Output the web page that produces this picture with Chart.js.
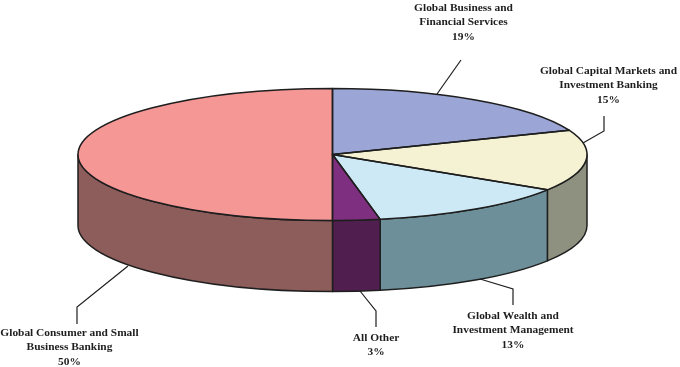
<!DOCTYPE html>
<html>
<head>
<meta charset="utf-8">
<style>
html, body { margin: 0; padding: 0; background: #fff; }
canvas { display: block; }
</style>
<script src="https://cdn.jsdelivr.net/npm/chart.js@4"></script>
</head>
<body>
<canvas id="myChart" width="680" height="367"></canvas>
<script>
const categories = [
    ['Global Business and', 'Financial Services'],
    ['Global Capital Markets and', 'Investment Banking'],
    ['Global Wealth and', 'Investment Management'],
    ['All Other'],
    ['Global Consumer and Small', 'Business Banking']
];
const shares = [19, 15, 13, 3, 50];
const topColors = ['#9ca6d6', '#f4f2d3', '#cde9f6', '#7f2f80', '#f49795'];
const wallColors = ['#6d7494', '#8e9180', '#6d8f99', '#501f4f', '#8d5d5b'];

// Ellipse of the pie top and height of the wall
const pie3d = { cx: 332.5, cy: 154.5, rx: 254.5, ry: 66, depth: 71 };

// Callouts: text centre, first baseline, line height and leader line
const callouts = [
    { x: 463.5, y: 10.5, leader: [[437, 94], [461, 60]] },
    { x: 608.5, y: 73.5, leader: [[583, 143], [604, 131], [604, 116]] },
    { x: 513, y: 318.5, leader: [[480, 279], [513, 289], [513, 305]] },
    { x: 376, y: 340.5, leader: [[360, 291], [376, 311], [376, 327]] },
    { x: 69.5, y: 335.5, leader: [[128, 266], [77, 307], [77, 324]] }
];
const lineHeight = 14.6;
const inkColor = '#1e1e1e';
const edgeWidth = 1.5;

const pie3dPlugin = {
    id: 'pie3d',
    beforeDatasetsDraw(chart) {
        const ctx = chart.ctx;
        const arcs = chart.getDatasetMeta(0).data;
        const { cx, cy, rx, ry, depth } = pie3d;
        // walls, only the part of each slice facing the viewer
        ctx.save();
        ctx.strokeStyle = inkColor;
        ctx.lineWidth = edgeWidth;
        ctx.lineJoin = 'round';
        arcs.forEach((arc, i) => {
            const a0 = Math.max(arc.startAngle, 0);
            const a1 = Math.min(arc.endAngle, Math.PI);
            if (a1 <= a0) return;
            ctx.beginPath();
            ctx.ellipse(cx, cy, rx, ry, 0, a0, a1);
            ctx.ellipse(cx, cy + depth, rx, ry, 0, a1, a0, true);
            ctx.closePath();
            ctx.fillStyle = wallColors[i];
            ctx.fill();
            ctx.stroke();
        });
        ctx.restore();
        // squash the library's circular arcs onto the ellipse
        const arc0 = arcs[0];
        ctx.save();
        ctx.translate(cx, cy);
        ctx.scale(rx / arc0.outerRadius, ry / arc0.outerRadius);
        ctx.translate(-arc0.x, -arc0.y);
    },
    afterDatasetsDraw(chart) {
        const ctx = chart.ctx;
        ctx.restore();
        const { cx, cy, rx, ry } = pie3d;
        ctx.save();
        ctx.strokeStyle = inkColor;
        ctx.lineWidth = edgeWidth;
        ctx.lineJoin = 'round';
        chart.getDatasetMeta(0).data.forEach((arc) => {
            ctx.beginPath();
            ctx.moveTo(cx, cy);
            ctx.ellipse(cx, cy, rx, ry, 0, arc.startAngle, arc.endAngle);
            ctx.closePath();
            ctx.stroke();
        });
        ctx.restore();
    },
    afterDraw(chart) {
        const ctx = chart.ctx;
        ctx.save();
        ctx.strokeStyle = inkColor;
        ctx.fillStyle = inkColor;
        ctx.lineWidth = 1.2;
        ctx.font = 'bold 11.4px "Liberation Serif"';
        ctx.textAlign = 'center';
        ctx.textBaseline = 'alphabetic';
        callouts.forEach((c, i) => {
            ctx.beginPath();
            c.leader.forEach((p, j) => (j ? ctx.lineTo(p[0], p[1]) : ctx.moveTo(p[0], p[1])));
            ctx.stroke();
            categories[i].concat(shares[i] + '%').forEach((line, j) => {
                ctx.fillText(line, c.x, c.y + j * lineHeight);
            });
        });
        ctx.restore();
    }
};

const ctx = document.getElementById('myChart').getContext('2d');
const myChart = new Chart(ctx, {
    type: 'pie',
    data: {
        labels: categories.map(c => c.join(' ')),
        datasets: [{
            data: shares,
            backgroundColor: topColors,
            borderWidth: 0,
            clip: false
        }]
    },
    options: {
        responsive: false,
        animation: false,
        events: [],
        plugins: {
            legend: { display: false },
            tooltip: { enabled: false }
        }
    },
    plugins: [pie3dPlugin]
});
</script>
</body>
</html>
